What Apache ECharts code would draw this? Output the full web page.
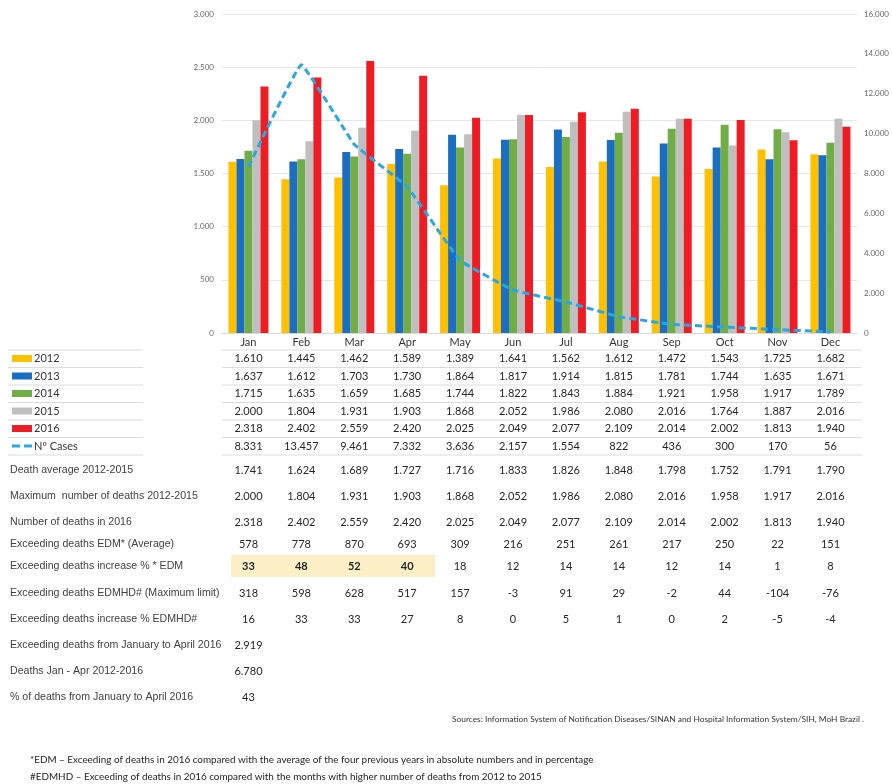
<!DOCTYPE html>
<html lang="en">
<head>
<meta charset="UTF-8">
<title>Deaths 2012-2016</title>
<style>
  body { margin: 0; background: #fff; }
  #main { width: 892px; height: 784px; }
</style>
</head>
<body>
<div id="main"></div>
<script src="https://cdn.jsdelivr.net/npm/echarts@6/dist/echarts.min.js"></script>
<script>
const months = ['Jan', 'Feb', 'Mar', 'Apr', 'May', 'Jun', 'Jul', 'Aug', 'Sep', 'Oct', 'Nov', 'Dec'];
const y2012 = [1610, 1445, 1462, 1589, 1389, 1641, 1562, 1612, 1472, 1543, 1725, 1682];
const y2013 = [1637, 1612, 1703, 1730, 1864, 1817, 1914, 1815, 1781, 1744, 1635, 1671];
const y2014 = [1715, 1635, 1659, 1685, 1744, 1822, 1843, 1884, 1921, 1958, 1917, 1789];
const y2015 = [2000, 1804, 1931, 1903, 1868, 2052, 1986, 2080, 2016, 1764, 1887, 2016];
const y2016 = [2318, 2402, 2559, 2420, 2025, 2049, 2077, 2109, 2014, 2002, 1813, 1940];
const cases = [8331, 13457, 9461, 7332, 3636, 2157, 1554, 822, 436, 300, 170, 56];

// rows under the chart
const deathAvg = [1741, 1624, 1689, 1727, 1716, 1833, 1826, 1848, 1798, 1752, 1791, 1790];
const deathMax = [2000, 1804, 1931, 1903, 1868, 2052, 1986, 2080, 2016, 1958, 1917, 2016];
const deaths2016 = [2318, 2402, 2559, 2420, 2025, 2049, 2077, 2109, 2014, 2002, 1813, 1940];
const edm = [578, 778, 870, 693, 309, 216, 251, 261, 217, 250, 22, 151];
const edmPct = [33, 48, 52, 40, 18, 12, 14, 14, 12, 14, 1, 8];
const edmhd = [318, 598, 628, 517, 157, -3, 91, 29, -2, 44, -104, -76];
const edmhdPct = [16, 33, 33, 27, 8, 0, 5, 1, 0, 2, -5, -4];
const excessJanApr = 2919;
const deathsJanApr = 6780;
const pctJanApr = 43;

const seriesNames = ['2012', '2013', '2014', '2015', '2016'];
const colors = ['#FFC000', '#1B6EC2', '#70AD47', '#BFBFBF', '#EE1C25'];
const caseColor = '#2AA7E0';

function fmt(v) {
    let s = String(Math.abs(v)).replace(/\B(?=(\d{3})+(?!\d))/g, '.');
    return v < 0 ? '-' + s : s;
}

let chart = echarts.init(document.getElementById('main'));

let bars = [y2012, y2013, y2014, y2015, y2016].map(function (d, i) {
    return {
        name: seriesNames[i],
        type: 'bar',
        data: d,
        barWidth: 8,
        barGap: '0%',
        itemStyle: { color: colors[i] }
    };
});

let legendData = seriesNames.map(function (n) { return { name: n, icon: 'rect' }; });
// two short dashes for the cases line
legendData.push({ name: 'Nº Cases', icon: 'path://M0,0H8V3H0Z M12,0H20V3H12Z', itemStyle: { color: caseColor } });

chart.setOption({
    animation: false,
    textStyle: { fontFamily: 'Lato' },
    legend: {
        orient: 'vertical',
        left: 12,
        top: 352.5,
        padding: 0,
        itemWidth: 20,
        itemHeight: 7,
        itemGap: 5.5,
        textStyle: { fontSize: 11, color: '#333', lineHeight: 12, padding: [0, 0, 0, -3] },
        data: legendData
    },
    grid: { left: 222, right: 30, top: 14, bottom: 451 },
    xAxis: {
        type: 'category',
        data: months,
        axisLine: { lineStyle: { color: '#D9D9D9' } },
        axisTick: { length: 122, lineStyle: { color: '#DCDCDC' } },
        axisLabel: { margin: 4, fontSize: 11, color: '#333' }
    },
    yAxis: [
        {
            type: 'value', min: 0, max: 3000, interval: 500,
            axisLabel: { formatter: fmt, fontSize: 8, color: '#666', margin: 8 },
            splitLine: { lineStyle: { color: '#E6E6E6' } }
        },
        {
            type: 'value', min: 0, max: 16000, interval: 2000,
            axisLabel: { formatter: fmt, fontSize: 8, color: '#666', margin: 7 },
            splitLine: { show: false }
        }
    ],
    series: bars.concat([{
        name: 'Nº Cases',
        type: 'line',
        yAxisIndex: 1,
        data: cases,
        smooth: 0.07,
        symbol: 'none',
        z: 5,
        lineStyle: { color: caseColor, width: 3, type: [7, 4] },
        itemStyle: { color: caseColor }
    }])
});

// table drawn under the plot, columns follow the category axis
let cx = months.map(function (m) { return chart.convertToPixel({ xAxisIndex: 0 }, m); });
let els = [];
let lineColor = '#DCDCDC';

[350, 367.5, 385, 402.5, 420, 437.5, 455].forEach(function (y) {
    els.push({ type: 'line', shape: { x1: 222, y1: y, x2: 862, y2: y }, style: { stroke: lineColor, lineWidth: 1 } });
    els.push({ type: 'line', shape: { x1: 8, y1: y, x2: 143, y2: y }, style: { stroke: lineColor, lineWidth: 1 } });
});

let valueFont = '11px Lato';
[y2012, y2013, y2014, y2015, y2016, cases].forEach(function (row, k) {
    row.forEach(function (v, i) {
        els.push({
            type: 'text', x: cx[i], y: 358.75 + k * 17.5,
            style: { text: fmt(v), font: valueFont, fill: '#262626', align: 'center', verticalAlign: 'middle' }
        });
    });
});

// highlight box behind the EDM % row (Jan-Apr)
els.push({ type: 'rect', shape: { x: 231, y: 555, width: 204, height: 22 }, style: { fill: '#FCEFC8' }, z: -1 });

let rows = [
    { label: 'Death average 2012-2015', y: 470.5, data: deathAvg },
    { label: 'Maximum  number of deaths 2012-2015', y: 496, data: deathMax },
    { label: 'Number of deaths in 2016', y: 522, data: deaths2016 },
    { label: 'Exceeding deaths EDM* (Average)', y: 544, data: edm },
    { label: 'Exceeding deaths increase % * EDM', y: 566.5, data: edmPct, bold: 4 },
    { label: 'Exceeding deaths EDMHD# (Maximum limit)', y: 593, data: edmhd },
    { label: 'Exceeding deaths increase % EDMHD#', y: 619, data: edmhdPct },
    { label: 'Exceeding deaths from January to April 2016', y: 645.5, data: [excessJanApr] },
    { label: 'Deaths Jan - Apr 2012-2016', y: 671.5, data: [deathsJanApr] },
    { label: '% of deaths from January to April 2016', y: 697, data: [pctJanApr] }
];
rows.forEach(function (r) {
    els.push({
        type: 'text', x: 10, y: r.y,
        style: { text: r.label, font: '10.6px "Liberation Sans"', fill: '#404040', verticalAlign: 'middle' }
    });
    r.data.forEach(function (v, i) {
        let bold = r.bold && i < r.bold;
        els.push({
            type: 'text', x: cx[i], y: r.y,
            style: { text: fmt(v), font: (bold ? 'bold ' : '') + valueFont, fill: '#262626', align: 'center', verticalAlign: 'middle' }
        });
    });
});

els.push({
    type: 'text', x: 864, y: 719,
    style: { text: 'Sources: Information System of Notification Diseases/SINAN and Hospital Information System/SIH, MoH Brazil .', font: '8.4px Lato', fill: '#333', align: 'right', verticalAlign: 'middle' }
});
els.push({
    type: 'text', x: 30, y: 760,
    style: { text: '*EDM – Exceeding of deaths in 2016 compared with the average of the four previous years in absolute numbers and in percentage', font: '9.9px Lato', fill: '#222', verticalAlign: 'middle' }
});
els.push({
    type: 'text', x: 30, y: 777,
    style: { text: '#EDMHD – Exceeding of deaths in 2016 compared with the months with higher number of deaths from 2012 to 2015', font: '9.9px Lato', fill: '#222', verticalAlign: 'middle' }
});

chart.setOption({ graphic: { elements: els } });
</script>
</body>
</html>
